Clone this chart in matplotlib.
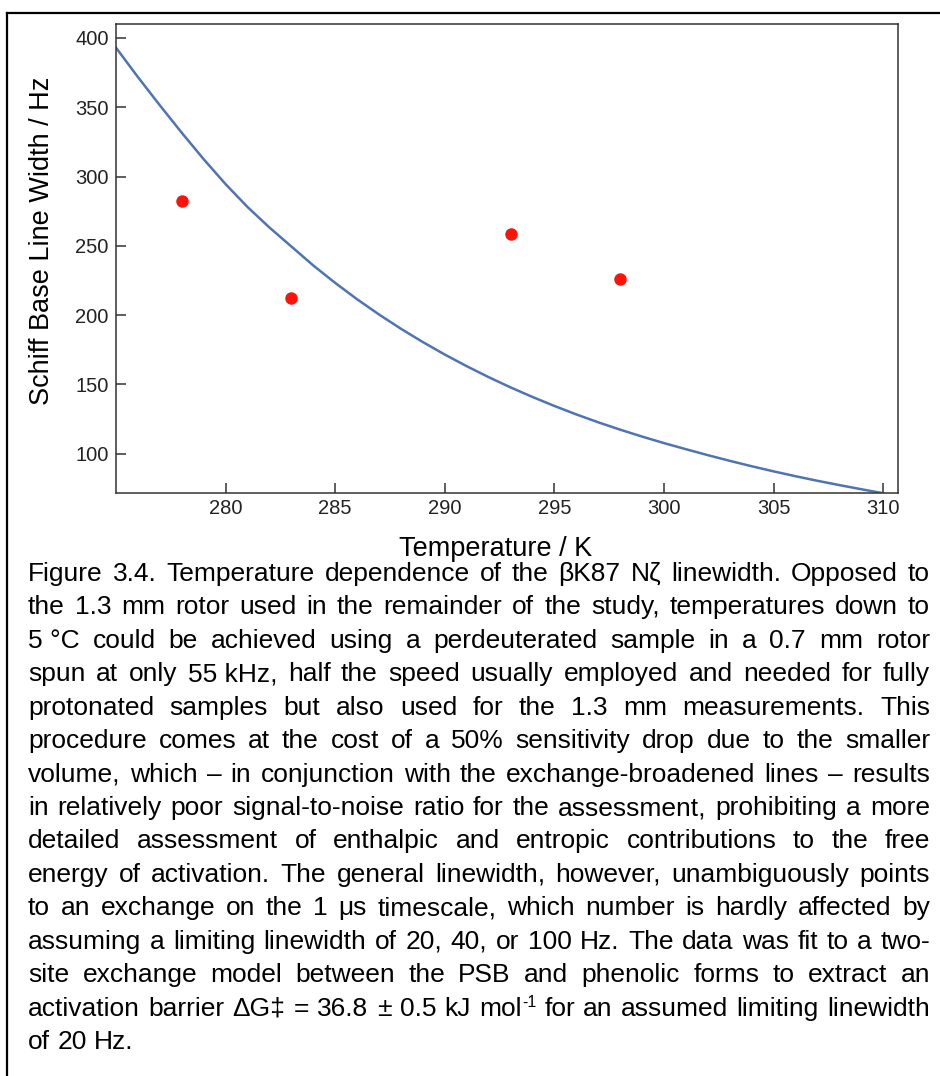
import matplotlib
matplotlib.use("Agg")
import matplotlib.pyplot as plt
from matplotlib.lines import Line2D

plt.rcParams['font.family'] = ['Liberation Sans', 'DejaVu Sans']

# --- data ---
temp_meas = [278, 283, 293, 298]
width_meas = [282.6, 212.0, 258.6, 226.1]

temp_fit = list(range(275, 311))
width_fit = [393.0, 371.8, 351.4, 331.6, 312.5, 294.5, 278.0, 263.2, 249.5,
             235.8, 223.2, 211.4, 200.4, 190.1, 180.5, 171.5, 163.1, 155.2,
             147.8, 140.9, 134.4, 128.3, 122.6, 117.3, 112.3, 107.6, 103.2,
             98.9, 94.8, 90.9, 87.2, 83.7, 80.4, 77.3, 74.3, 71.4]

x_ticks = [280, 285, 290, 295, 300, 305, 310]
y_ticks = [100, 150, 200, 250, 300, 350, 400]

# '^' marks a superscript for the rest of the word
caption = [
    "Figure 3.4. Temperature dependence of the \u03b2K87 N\u03b6 linewidth. Opposed to",
    "the 1.3 mm rotor used in the remainder of the study, temperatures down to",
    "5\u00a0\u00b0C could be achieved using a perdeuterated sample in a 0.7 mm rotor",
    "spun at only 55\u00a0kHz, half the speed usually employed and needed for fully",
    "protonated samples but also used for the 1.3 mm measurements. This",
    "procedure comes at the cost of a 50% sensitivity drop due to the smaller",
    "volume, which \u2013 in conjunction with the exchange-broadened lines \u2013 results",
    "in relatively poor signal-to-noise ratio for the assessment, prohibiting a more",
    "detailed assessment of enthalpic and entropic contributions to the free",
    "energy of activation. The general linewidth, however, unambiguously points",
    "to an exchange on the 1 \u03bcs timescale, which number is hardly affected by",
    "assuming a limiting linewidth of 20, 40, or 100 Hz. The data was fit to a two-",
    "site exchange model between the PSB and phenolic forms to extract an",
    "activation barrier \u0394G\u2021 = 36.8 \u00b1 0.5 kJ mol^-1 for an assumed limiting linewidth",
    "of 20 Hz.",
]

W, H = 940, 1076
fig = plt.figure(figsize=(W / 100, H / 100), dpi=100)
ax = fig.add_axes([116 / W, 1 - 493 / H, (898 - 116) / W, (493 - 24) / H])

ax.plot(temp_fit, width_fit, color='#4f74b3', lw=1.8, zorder=2)
ax.plot(temp_meas, width_meas, 'o', color='#ff1208', ms=9, mec='none', zorder=3)

ax.set_xlim(275, 310.67)
ax.set_ylim(71.6, 410.1)
ax.set_xticks(x_ticks)
ax.set_yticks(y_ticks)
ax.tick_params(direction='in', length=7, width=1.1, color='#333333',
               labelsize=14.5, labelcolor='#222222')
ax.tick_params(axis='y', pad=5.3)
ax.tick_params(axis='x', pad=4.5)
for sp in ax.spines.values():
    sp.set_color('#333333')
    sp.set_linewidth(1.1)

ax.set_xlabel('Temperature / K', fontsize=19.5)
ax.xaxis.label.set_va('baseline')
ax.xaxis.set_label_coords(0.485, (493 - 556) / 469)
ax.set_ylabel('Schiff Base Line Width / Hz', fontsize=19.5)
ax.yaxis.label.set_va('center')
ax.yaxis.set_label_coords(-0.094, 0.537)

# outer frame (top and left edges)
fig.add_artist(Line2D([6.7 / W, 1.0], [1 - 12.7 / H, 1 - 12.7 / H],
                      transform=fig.transFigure, color='black', lw=1.6))
fig.add_artist(Line2D([6.7 / W, 6.7 / W], [1 - 12.7 / H, 0.0],
                      transform=fig.transFigure, color='black', lw=1.6))

# justified caption below the plot
left_px, right_px = 28, 930
base0, step = 581, 33.43
cap_size = 19
sup_size = 11.5
sup_rise = 9  # px
renderer = fig.canvas.get_renderer()


def text_width(s, size=cap_size):
    t = fig.text(0, 0, s, fontsize=size)
    w = t.get_window_extent(renderer).width
    t.remove()
    return w


space_w = text_width('a a') - text_width('aa')

for i, line in enumerate(caption):
    y_px = base0 + step * i
    words = line.split(' ')
    parts = []
    widths = []
    for w in words:
        main, _, sup = w.partition('^')
        t = fig.text(0, 1 - y_px / H, main, fontsize=cap_size,
                     va='baseline', ha='left')
        wd = t.get_window_extent(renderer).width
        s = None
        if sup:
            s = fig.text(0, 1 - (y_px - sup_rise) / H, sup, fontsize=sup_size,
                         va='baseline', ha='left')
            wd_main = wd
            wd += s.get_window_extent(renderer).width
        else:
            wd_main = wd
        parts.append((t, s, wd_main))
        widths.append(wd)
    if i == len(caption) - 1:
        gap = space_w
    else:
        gap = (right_px - left_px - sum(widths)) / (len(words) - 1)
    x = left_px
    for (t, s, wd_main), wd in zip(parts, widths):
        t.set_x(x / W)
        if s is not None:
            s.set_x((x + wd_main) / W)
        x += wd + gap

fig.savefig('out.png', dpi=100)
